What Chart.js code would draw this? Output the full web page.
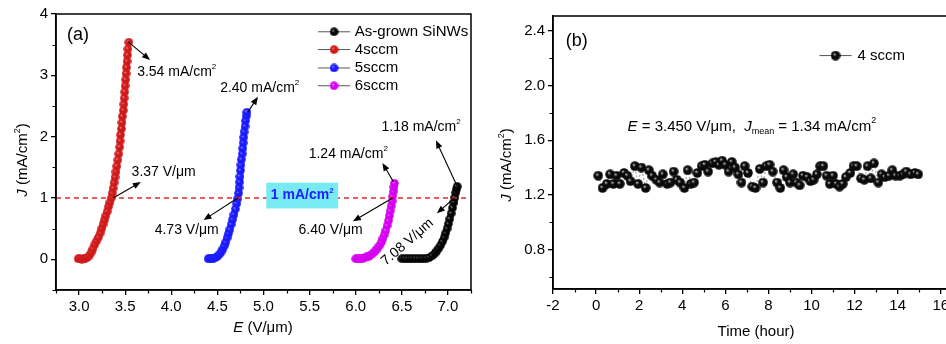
<!DOCTYPE html>
<html>
<head>
<meta charset="utf-8">
<script src="https://cdn.jsdelivr.net/npm/chart.js@4.4.1/dist/chart.umd.min.js"></script>
<style>
html, body { margin: 0; padding: 0; overflow: hidden; background: #fff; width: 946px; height: 344px; }
#left { position: absolute; left: 0; top: 0; }
#right { position: absolute; left: 480px; top: 0; }
</style>
</head>
<body>
<canvas id="left" width="480" height="344"></canvas>
<canvas id="right" width="500" height="344"></canvas>
<script>
// ---- panel (a): J-E curves ----
const eAsGrown = [6.50, 6.53, 6.56, 6.59, 6.62, 6.65, 6.68, 6.71, 6.74, 6.77, 6.80, 6.83, 6.86, 6.88, 6.90, 6.92, 6.94, 6.96, 6.975, 6.99, 7.005, 7.02, 7.035, 7.05, 7.065, 7.075, 7.085, 7.095, 7.10];
const jAsGrown = [0.01, 0.01, 0.01, 0.01, 0.01, 0.01, 0.01, 0.01, 0.01, 0.02, 0.03, 0.06, 0.10, 0.14, 0.18, 0.23, 0.29, 0.36, 0.43, 0.50, 0.58, 0.66, 0.75, 0.84, 0.93, 1.01, 1.09, 1.15, 1.19];

const e4sccm = [2.99, 3.01, 3.03, 3.05, 3.07, 3.09, 3.11, 3.13, 3.15, 3.17, 3.19, 3.21, 3.23, 3.245, 3.26, 3.275, 3.29, 3.305, 3.32, 3.335, 3.35, 3.36, 3.37, 3.38, 3.39, 3.40, 3.41, 3.42, 3.43, 3.44, 3.445, 3.45, 3.46, 3.465, 3.47, 3.48, 3.485, 3.49, 3.495, 3.50, 3.505, 3.51, 3.515, 3.52, 3.525, 3.53, 3.54];
const j4sccm = [0.01, 0.01, 0.00, 0.01, 0.02, 0.03, 0.06, 0.11, 0.17, 0.24, 0.30, 0.36, 0.43, 0.50, 0.57, 0.64, 0.71, 0.78, 0.86, 0.93, 1.00, 1.08, 1.16, 1.25, 1.34, 1.43, 1.52, 1.62, 1.72, 1.83, 1.93, 2.03, 2.13, 2.23, 2.33, 2.43, 2.53, 2.63, 2.73, 2.83, 2.93, 3.03, 3.13, 3.23, 3.33, 3.43, 3.54];

const e5sccm = [4.40, 4.42, 4.44, 4.46, 4.48, 4.50, 4.52, 4.54, 4.56, 4.575, 4.59, 4.605, 4.62, 4.635, 4.65, 4.665, 4.68, 4.695, 4.71, 4.72, 4.73, 4.735, 4.74, 4.745, 4.75, 4.755, 4.76, 4.77, 4.775, 4.78, 4.785, 4.79, 4.80, 4.805, 4.815, 4.82];
const j5sccm = [0.01, 0.01, 0.01, 0.02, 0.03, 0.05, 0.08, 0.12, 0.17, 0.22, 0.28, 0.35, 0.42, 0.49, 0.57, 0.65, 0.73, 0.82, 0.91, 0.99, 1.08, 1.17, 1.26, 1.35, 1.45, 1.54, 1.63, 1.72, 1.81, 1.90, 1.99, 2.08, 2.17, 2.26, 2.34, 2.40];

const e6sccm = [6.00, 6.02, 6.04, 6.06, 6.08, 6.10, 6.12, 6.14, 6.16, 6.18, 6.20, 6.22, 6.24, 6.26, 6.28, 6.295, 6.31, 6.325, 6.34, 6.355, 6.365, 6.375, 6.385, 6.395, 6.40, 6.41, 6.415, 6.42];
const j6sccm = [0.01, 0.01, 0.01, 0.02, 0.02, 0.03, 0.04, 0.05, 0.07, 0.09, 0.12, 0.15, 0.19, 0.23, 0.28, 0.34, 0.40, 0.47, 0.55, 0.63, 0.71, 0.79, 0.87, 0.95, 1.03, 1.11, 1.18, 1.24];

const thresholdE = [2.75, 7.2];
const thresholdJ = [1, 1];

const eTicks = [3.0, 3.5, 4.0, 4.5, 5.0, 5.5, 6.0, 6.5, 7.0];
const eMinor = [2.75, 3.25, 3.75, 4.25, 4.75, 5.25, 5.75, 6.25, 6.75, 7.25];
const jTicks = [0, 1, 2, 3, 4];
const jMinor = [-0.5, 0.5, 1.5, 2.5, 3.5];

// ---- panel (b): stability at 4 sccm ----
const hours = [
  0.1, 0.3, 0.5, 0.65, 0.8, 0.95, 1.1, 1.3, 1.45, 1.6,
  1.8, 1.95, 2.1, 2.3, 2.45, 2.6, 2.8, 2.95, 3.1, 3.3,
  3.45, 3.6, 3.75, 3.9, 4.1, 4.25, 4.4, 4.55, 4.7, 4.9,
  5.05, 5.2, 5.4, 5.55, 5.7, 5.85, 6.0, 6.15, 6.3, 6.45,
  6.6, 6.75, 6.9, 7.05, 7.25, 7.4, 7.6, 7.75, 7.9, 8.05,
  8.2, 8.4, 8.55, 8.7, 8.85, 9.0, 9.15, 9.3, 9.45, 9.6,
  9.8, 9.95, 10.1, 10.25, 10.4, 10.55, 10.7, 10.85, 11.0, 11.15,
  11.3, 11.45, 11.6, 11.8, 11.95, 12.1, 12.3, 12.45, 12.6, 12.75,
  12.9, 13.1, 13.25, 13.4, 13.6, 13.75, 13.9, 14.1, 14.25, 14.4,
  14.6, 14.8, 14.95
];
const jStability = [
  1.34, 1.25, 1.28, 1.35, 1.28, 1.34, 1.28, 1.36, 1.34, 1.30,
  1.41, 1.28, 1.40, 1.25, 1.38, 1.34, 1.31, 1.29, 1.35, 1.28,
  1.29, 1.37, 1.31, 1.29, 1.25, 1.38, 1.28, 1.29, 1.36, 1.41,
  1.42, 1.37, 1.43, 1.44, 1.42, 1.45, 1.42, 1.37, 1.44, 1.40,
  1.35, 1.29, 1.41, 1.36, 1.26, 1.25, 1.39, 1.29, 1.41, 1.42,
  1.37, 1.29, 1.25, 1.38, 1.33, 1.29, 1.35, 1.29, 1.27, 1.34,
  1.33, 1.30, 1.31, 1.35, 1.41, 1.41, 1.34, 1.28, 1.34, 1.28,
  1.26, 1.28, 1.33, 1.36, 1.41, 1.41, 1.32, 1.31, 1.41, 1.32,
  1.43, 1.29, 1.35, 1.33, 1.34, 1.38, 1.34, 1.34, 1.35, 1.37,
  1.35, 1.36, 1.35
];

const tTicks = [-2, 0, 2, 4, 6, 8, 10, 12, 14, 16];
const tMinor = [-1, 1, 3, 5, 7, 9, 11, 13, 15];
const sTicks = [0.8, 1.2, 1.6, 2.0, 2.4];
const sMinor = [0.6, 1.0, 1.4, 1.8, 2.2];

const FONT = '"Liberation Sans", Arial, Helvetica, sans-serif';
const f = (size, style) => (style ? style + ' ' : '') + size + 'px ' + FONT;

// shaded ball marker, like the origin spheres
function ball(color, light, d) {
  const c = document.createElement('canvas');
  c.width = d; c.height = d;
  const g = c.getContext('2d');
  const r = d / 2;
  const grad = g.createRadialGradient(r * 0.75, r * 0.7, 0.2, r, r, r);
  grad.addColorStop(0, light);
  grad.addColorStop(0.35, color);
  grad.addColorStop(1, color);
  g.fillStyle = grad;
  g.beginPath();
  g.arc(r, r, r - 0.2, 0, Math.PI * 2);
  g.fill();
  return c;
}

const RED = '#d01a1a', BLUE = '#1a1aff', MAG = '#d600f0', BLACK = '#000000';
const balls = {
  black: ball('#050505', '#999999', 9),
  red: ball(RED, '#ee8080', 9),
  blue: ball(BLUE, '#8c8cff', 9),
  mag: ball(MAG, '#f090ff', 9),
  blackB: ball('#0a0a0a', '#c0c0c0', 10)
};

const pts = (xs, ys) => xs.map((x, i) => ({ x: x, y: ys[i] }));

// draws a run of text pieces [text, font, dy]
function rich(ctx, parts, x, y, align) {
  let w = 0;
  parts.forEach(p => { ctx.font = p[1]; w += ctx.measureText(p[0]).width; });
  let cx = align === 'center' ? x - w / 2 : x;
  ctx.textAlign = 'left';
  ctx.textBaseline = 'middle';
  parts.forEach(p => {
    ctx.font = p[1];
    ctx.fillText(p[0], cx, y + (p[2] || 0));
    cx += ctx.measureText(p[0]).width;
  });
}

function arrow(ctx, x1, y1, x2, y2) {
  const ang = Math.atan2(y2 - y1, x2 - x1);
  const L = 8, W = 3.2;
  ctx.beginPath();
  ctx.moveTo(x1, y1);
  ctx.lineTo(x2 - Math.cos(ang) * L * 0.8, y2 - Math.sin(ang) * L * 0.8);
  ctx.stroke();
  ctx.beginPath();
  ctx.moveTo(x2, y2);
  ctx.lineTo(x2 - Math.cos(ang) * L - Math.sin(ang) * W, y2 - Math.sin(ang) * L + Math.cos(ang) * W);
  ctx.lineTo(x2 - Math.cos(ang) * L + Math.sin(ang) * W, y2 - Math.sin(ang) * L - Math.cos(ang) * W);
  ctx.closePath();
  ctx.fill();
}

const decor = {
  id: 'decor',
  afterDatasetsDraw(chart) {
    const o = chart.options.plugins.decor;
    const { ctx, chartArea: a, scales: { x, y } } = chart;
    ctx.save();
    ctx.fillStyle = '#000';
    ctx.strokeStyle = '#000';

    (o.boxes || []).forEach(b => {
      const x1 = x.getPixelForValue(b.x1), x2 = x.getPixelForValue(b.x2);
      const y1 = y.getPixelForValue(b.y1), y2 = y.getPixelForValue(b.y2);
      ctx.fillStyle = b.fill;
      ctx.fillRect(x1, y1, x2 - x1, y2 - y1);
      ctx.fillStyle = b.color;
      rich(ctx, b.parts, (x1 + x2) / 2, (y1 + y2) / 2, 'center');
    });

    ctx.fillStyle = '#000';
    ctx.lineWidth = 1.1;
    (o.arrows || []).forEach(r => {
      arrow(ctx, x.getPixelForValue(r[0]), y.getPixelForValue(r[1]), x.getPixelForValue(r[2]), y.getPixelForValue(r[3]));
    });

    (o.notes || []).forEach(n => {
      const px = x.getPixelForValue(n.x), py = y.getPixelForValue(n.y);
      ctx.save();
      ctx.translate(px, py);
      if (n.rot) ctx.rotate(n.rot * Math.PI / 180);
      rich(ctx, n.parts, 0, 0, n.align || 'left');
      ctx.restore();
    });

    (o.legend || []).forEach(l => {
      const py = y.getPixelForValue(l.y);
      const x1 = x.getPixelForValue(l.x1), x2 = x.getPixelForValue(l.x2);
      ctx.strokeStyle = '#555';
      ctx.lineWidth = 1;
      ctx.beginPath(); ctx.moveTo(x1, py); ctx.lineTo(x2, py); ctx.stroke();
      const img = l.ball;
      ctx.drawImage(img, (x1 + x2) / 2 - img.width / 2, py - img.height / 2);
      ctx.fillStyle = '#000';
      rich(ctx, [[l.text, f(15)]], x.getPixelForValue(l.tx), py, 'left');
    });
    ctx.restore();
  },
  afterDraw(chart) {
    const o = chart.options.plugins.decor;
    const { ctx, chartArea: a, scales: { x, y } } = chart;
    ctx.save();
    ctx.strokeStyle = '#000';
    ctx.lineWidth = 1.5;
    ctx.strokeRect(a.left, a.top, a.right - a.left, a.bottom - a.top);
    ctx.lineWidth = 1.2;
    ctx.beginPath();
    o.minorX.forEach(v => {
      const px = Math.round(x.getPixelForValue(v)) + 0.5;
      ctx.moveTo(px, a.bottom); ctx.lineTo(px, a.bottom + 3.5);
    });
    o.minorY.forEach(v => {
      const py = Math.round(y.getPixelForValue(v)) + 0.5;
      ctx.moveTo(a.left, py); ctx.lineTo(a.left - 3.5, py);
    });
    ctx.stroke();
    ctx.fillStyle = '#000';
    o.titles.forEach(t => {
      ctx.save();
      ctx.translate(t.x, t.y);
      if (t.rot) ctx.rotate(t.rot * Math.PI / 180);
      rich(ctx, t.parts, 0, 0, 'center');
      ctx.restore();
    });
    ctx.restore();
  }
};

function axes(xr, yr, xt, yt, xw, yw, yfmt) {
  const common = {
    type: 'linear',
    grid: { drawOnChartArea: false, drawTicks: true, tickLength: 5, color: '#000', lineWidth: 1.3 },
    border: { display: true, color: '#000', width: 1.5 },
    ticks: { color: '#000', font: { family: FONT, size: 15 }, padding: 3, maxRotation: 0, autoSkip: false }
  };
  return {
    x: Object.assign({}, common, {
      min: xr[0], max: xr[1],
      afterBuildTicks: s => { s.ticks = xt.map(v => ({ value: v })); },
      afterFit: s => { s.height = xw; },
      ticks: Object.assign({}, common.ticks, { callback: v => (Number.isInteger(v) && xr[0] < 0) ? String(v) : v.toFixed(xr[0] < 0 ? 0 : 1) })
    }),
    y: Object.assign({}, common, {
      min: yr[0], max: yr[1],
      afterBuildTicks: s => { s.ticks = yt.map(v => ({ value: v })); },
      afterFit: s => { s.width = yw; },
      ticks: Object.assign({}, common.ticks, { callback: yfmt })
    })
  };
}

const unitJ = [['J', f(15, 'italic')], [' (mA/cm', f(15)], ['2', f(9), -5], [')', f(15)]];

new Chart(document.getElementById('left'), {
  type: 'scatter',
  data: {
    datasets: [
      { data: pts(thresholdE, thresholdJ), showLine: true, borderColor: '#e02828', borderWidth: 1.3, borderDash: [5, 4], pointRadius: 0 },
      { label: 'As-grown SiNWs', data: pts(eAsGrown, jAsGrown), showLine: true, borderColor: BLACK, borderWidth: 3, pointStyle: balls.black },
      { label: '4sccm', data: pts(e4sccm, j4sccm), showLine: true, borderColor: RED, borderWidth: 3, pointStyle: balls.red },
      { label: '5sccm', data: pts(e5sccm, j5sccm), showLine: true, borderColor: BLUE, borderWidth: 3, pointStyle: balls.blue },
      { label: '6sccm', data: pts(e6sccm, j6sccm), showLine: true, borderColor: MAG, borderWidth: 3, pointStyle: balls.mag }
    ]
  },
  options: {
    responsive: false,
    animation: false,
    layout: { padding: { top: 14, right: 9, left: 0, bottom: 0 } },
    scales: axes([2.75, 7.25], [-0.5, 4], eTicks, jTicks, 54, 56, v => String(v)),
    plugins: {
      legend: { display: false },
      tooltip: { enabled: false },
      decor: {
        minorX: eMinor,
        minorY: jMinor,
        boxes: [{ x1: 5.03, x2: 5.81, y1: 1.25, y2: 0.83, fill: '#78eaf3', color: '#1e1eff',
                  parts: [['1 mA/cm', f(14, 'bold')], ['2', f(8, 'bold'), -5]] }],
        arrows: [
          [3.53, 3.55, 3.77, 3.25],
          [4.83, 2.40, 4.94, 2.65],
          [3.37, 1.0, 3.67, 1.26],
          [4.72, 1.0, 4.35, 0.64],
          [6.41, 1.26, 6.29, 1.57],
          [6.40, 1.0, 5.97, 0.62],
          [7.10, 1.19, 6.87, 1.94],
          [7.07, 1.0, 6.88, 0.75]
        ],
        notes: [
          { x: 2.87, y: 3.66, parts: [['(a)', f(18)]] },
          { x: 3.63, y: 3.06, parts: [['3.54 mA/cm', f(14)], ['2', f(8), -5]] },
          { x: 4.53, y: 2.79, parts: [['2.40 mA/cm', f(14)], ['2', f(8), -5]] },
          { x: 3.57, y: 1.42, parts: [['3.37 V/μm', f(14)]] },
          { x: 3.82, y: 0.47, parts: [['4.73 V/μm', f(14)]] },
          { x: 5.49, y: 1.72, parts: [['1.24 mA/cm', f(14)], ['2', f(8), -5]] },
          { x: 5.38, y: 0.47, parts: [['6.40 V/μm', f(14)]] },
          { x: 6.28, y: 2.16, parts: [['1.18 mA/cm', f(14)], ['2', f(8), -5]] },
          { x: 6.56, y: 0.28, rot: -41, align: 'center', parts: [['7.08 V/μm', f(14)]] }
        ],
        legend: [
          { y: 3.71, x1: 5.59, x2: 5.94, tx: 5.99, text: 'As-grown SiNWs', ball: balls.black },
          { y: 3.42, x1: 5.59, x2: 5.94, tx: 5.99, text: '4sccm', ball: balls.red },
          { y: 3.12, x1: 5.59, x2: 5.94, tx: 5.99, text: '5sccm', ball: balls.blue },
          { y: 2.83, x1: 5.59, x2: 5.94, tx: 5.99, text: '6sccm', ball: balls.mag }
        ],
        titles: [
          { x: 263, y: 328, parts: [['E', f(15, 'italic')], [' (V/μm)', f(15)]] },
          { x: 23, y: 160, rot: -90, parts: unitJ }
        ]
      }
    }
  },
  plugins: [decor]
});

new Chart(document.getElementById('right'), {
  type: 'scatter',
  data: {
    datasets: [
      { label: '4 sccm', data: pts(hours, jStability), showLine: true, borderColor: '#777', borderWidth: 0.8, borderDash: [2, 2], pointStyle: balls.blackB }
    ]
  },
  options: {
    responsive: false,
    animation: false,
    layout: { padding: { top: 16, right: 22, left: 0, bottom: 0 } },
    scales: axes([-2, 16.8], [0.51, 2.51], tTicks, sTicks, 55, 73, v => v.toFixed(1)),
    plugins: {
      legend: { display: false },
      tooltip: { enabled: false },
      decor: {
        minorX: tMinor,
        minorY: sMinor,
        notes: [
          { x: -1.41, y: 2.33, parts: [['(b)', f(18)]] },
          { x: 1.46, y: 1.70, parts: [['E', f(15, 'italic')], [' = 3.450 V/μm,  ', f(15)], ['J', f(15, 'italic')],
                                      ['mean', f(9), 5], [' = 1.34 mA/cm', f(15)], ['2', f(9), -6]] }
        ],
        legend: [
          { y: 2.22, x1: 10.37, x2: 11.86, tx: 12.14, text: '4 sccm', ball: balls.blackB }
        ],
        titles: [
          { x: 276, y: 332, parts: [['Time (hour)', f(15)]] },
          { x: 27, y: 165, rot: -90, parts: unitJ }
        ]
      }
    }
  },
  plugins: [decor]
});
</script>
</body>
</html>
